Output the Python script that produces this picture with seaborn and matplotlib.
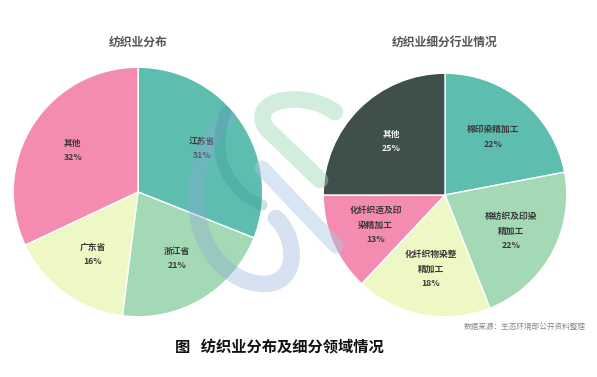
import matplotlib
matplotlib.use("Agg")
import numpy as np
import matplotlib.pyplot as plt
from matplotlib.patches import PathPatch
from matplotlib.path import Path
import seaborn as sns

# 数据
left_labels = ['江苏省', '浙江省', '广东省', '其他']
left_values = [31, 21, 16, 32]
right_labels = ['棉印染精加工', '棉纺织及印染\n精加工', '化纤织物染整\n精加工', '化纤织造及印\n染精加工', '其他']
right_values = [22, 22, 18, 13, 25]

left_colors = ['#5dbdae', '#a3dab5', '#eef8c4', '#f48bb0']
right_colors = ['#5dbdae', '#a3dab5', '#eef8c4', '#f48bb0', '#3f4f4b']

sns.set_theme(style='white')
plt.rcParams['font.family'] = ['Noto Sans CJK SC', 'DejaVu Sans']

W, H = 597, 377
fig = plt.figure(figsize=(W / 100, H / 100), dpi=100)
fig.patch.set_facecolor('white')


def pie_axes(cx, cy, r):
    return fig.add_axes([(cx - r) / W, (H - cy - r) / H, 2 * r / W, 2 * r / H])


def draw_pie(ax, values, labels, colors, dark_idx=None):
    wedges, texts = ax.pie(values, colors=colors, startangle=90, counterclock=False,
                           wedgeprops=dict(edgecolor='white', linewidth=1.0), radius=1)
    for i, (w, lab, v) in enumerate(zip(wedges, labels, values)):
        ang = np.deg2rad((w.theta1 + w.theta2) / 2)
        d = 0.62
        col = '#f2f2f2' if i == dark_idx else '#3a3a3a'
        ax.text(d * np.cos(ang), d * np.sin(ang), f'{lab}\n{v}%', ha='center', va='center',
                fontsize=6.3, color=col, linespacing=1.8, fontweight='bold')
    ax.set_xlim(-1.01, 1.01)
    ax.set_ylim(-1.01, 1.01)
    ax.set_aspect('equal')
    ax.axis('off')


ax1 = pie_axes(138, 192, 126)
draw_pie(ax1, left_values, left_labels, left_colors)
ax2 = pie_axes(445, 195, 123)
draw_pie(ax2, right_values, right_labels, right_colors, dark_idx=4)

# 水印 (半透明 S 标志)
wm = fig.add_axes([0, 0, 1, 1])
wm.set_xlim(0, W)
wm.set_ylim(H, 0)
wm.axis('off')


def stroke(verts, codes, lw, color, alpha):
    wm.add_patch(PathPatch(Path(verts, codes), fill=False, lw=lw, edgecolor=color,
                           alpha=alpha, capstyle='round'))


C4, M, L = Path.CURVE4, Path.MOVETO, Path.LINETO
stroke([(335, 112), (305, 90), (248, 98), (266, 128), (320, 180)], [M, C4, C4, C4, L],
       12, '#9fd8b2', 0.45)
stroke([(228, 118), (180, 160), (185, 262), (250, 282), (300, 295), (300, 240), (276, 218)],
       [M, C4, C4, C4, C4, C4, C4], 12, '#8aa9d8', 0.35)
stroke([(262, 168), (336, 246)], [M, L], 11, '#a9c8e6', 0.45)
stroke([(226, 112), (210, 150), (225, 190), (262, 205)], [M, C4, C4, C4], 8, '#2e8f90', 0.25)

fig.text(138 / W, 1 - 42 / H, '纺织业分布', ha='center', va='center', fontsize=8.5,
         color='#555555', fontweight='bold')
fig.text(445 / W, 1 - 42 / H, '纺织业细分行业情况', ha='center', va='center', fontsize=8.5,
         color='#555555', fontweight='bold')
fig.text(586 / W, 1 - 327 / H, '数据来源：生态环境部公开资料整理', ha='right', va='center',
         fontsize=5.5, color='#888888')
fig.text(175 / W, 1 - 347 / H, '图   纺织业分布及细分领域情况', ha='left', va='center',
         fontsize=11, color='#111111', fontweight='bold')

fig.savefig('out.png', dpi=100, facecolor='white')
